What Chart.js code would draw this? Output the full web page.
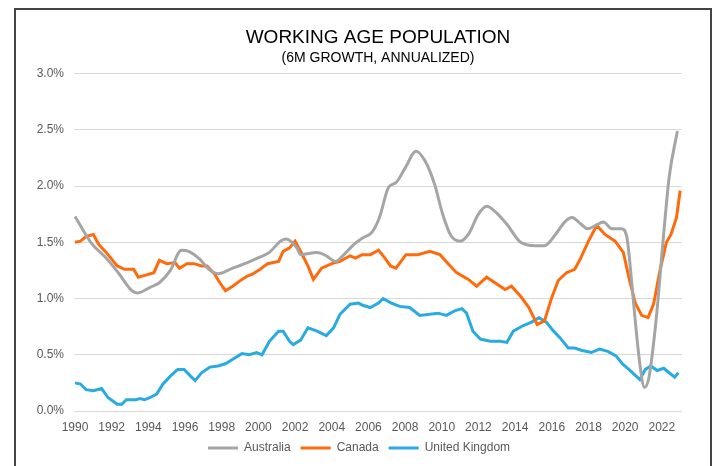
<!DOCTYPE html>
<html>
<head>
<meta charset="utf-8">
<title>Working Age Population</title>
<script src="https://cdn.jsdelivr.net/npm/chart.js@4/dist/chart.umd.min.js"></script>
<style>
  html, body { margin: 0; padding: 0; background: #fff; }
  #wrap { position: relative; width: 719px; height: 466px; }
  #frame {
    position: absolute; left: 14px; top: 8px; width: 698px; height: 470px;
    border: 2px solid #444; box-sizing: border-box; pointer-events: none;
  }
</style>
</head>
<body>
<div id="wrap">
  <canvas id="popChart" width="719" height="466"></canvas>
  <div id="frame"></div>
</div>
<script>
// values, % (6m growth, annualized)
const auYears = [1990.0, 1990.9, 1991.7, 1992.4, 1993.1, 1993.4, 1994.1, 1994.6, 1995.2, 1995.8,
  1996.2, 1996.8, 1997.3, 1997.8, 1998.6, 1999.4, 2000.1, 2000.6, 2001.2, 2001.5,
  2002.1, 2002.3, 2003.2, 2003.7, 2004.2, 2004.6, 2005.2, 2005.7, 2006.2, 2006.6,
  2007.1, 2007.5, 2008.0, 2008.6, 2009.1, 2009.6, 2010.05, 2010.5, 2011.0, 2011.45,
  2012.0, 2012.45, 2013.0, 2013.55, 2014.3, 2015.1, 2015.6, 2016.2, 2016.7, 2017.1,
  2017.6, 2017.95, 2018.4, 2018.8, 2019.3, 2019.8, 2020.1, 2020.25, 2020.5, 2020.8,
  2021.05, 2021.3, 2021.7, 2022.05, 2022.4, 2022.85];
const auValues = [1.73, 1.49, 1.36, 1.22, 1.07, 1.05, 1.10, 1.14, 1.25, 1.43,
  1.42, 1.35, 1.26, 1.22, 1.27, 1.32, 1.37, 1.41, 1.51, 1.53,
  1.45, 1.39, 1.41, 1.38, 1.33, 1.38, 1.48, 1.54, 1.59, 1.72,
  1.99, 2.03, 2.16, 2.31, 2.22, 2.02, 1.75, 1.56, 1.51, 1.57,
  1.75, 1.82, 1.76, 1.66, 1.50, 1.47, 1.47, 1.57, 1.68, 1.72,
  1.66, 1.62, 1.65, 1.68, 1.62, 1.62, 1.54, 1.33, 0.89, 0.42,
  0.21, 0.30, 0.83, 1.48, 2.08, 2.49];

const caYears = [1990.0, 1990.3, 1990.6, 1991.0, 1991.3, 1991.7, 1992.3, 1992.7, 1993.2, 1993.45,
  1993.9, 1994.3, 1994.6, 1995.0, 1995.45, 1995.7, 1996.1, 1996.5, 1996.9, 1997.2,
  1997.6, 1997.9, 1998.2, 1998.6, 1999.1, 1999.4, 1999.7, 2000.1, 2000.5, 2001.1,
  2001.35, 2001.7, 2002.0, 2002.3, 2002.7, 2003.0, 2003.45, 2004.0, 2004.45, 2005.0,
  2005.3, 2005.65, 2006.1, 2006.55, 2006.9, 2007.2, 2007.5, 2008.05, 2008.7, 2009.35,
  2009.9, 2010.35, 2010.8, 2011.45, 2011.9, 2012.45, 2013.0, 2013.45, 2013.8, 2014.3,
  2014.75, 2015.2, 2015.6, 2016.0, 2016.35, 2016.8, 2017.25, 2017.55, 2018.0, 2018.45,
  2018.9, 2019.45, 2019.9, 2020.2, 2020.55, 2020.9, 2021.25, 2021.55, 2021.9, 2022.25,
  2022.5, 2022.8, 2023.0];
const caValues = [1.50, 1.51, 1.55, 1.57, 1.48, 1.41, 1.29, 1.26, 1.26, 1.19,
  1.21, 1.23, 1.34, 1.31, 1.32, 1.27, 1.31, 1.31, 1.29, 1.29,
  1.22, 1.14, 1.07, 1.11, 1.17, 1.20, 1.22, 1.26, 1.31, 1.33,
  1.42, 1.45, 1.51, 1.42, 1.29, 1.17, 1.27, 1.31, 1.33, 1.38,
  1.36, 1.39, 1.39, 1.43, 1.36, 1.29, 1.27, 1.39, 1.39, 1.42,
  1.39, 1.31, 1.23, 1.17, 1.11, 1.19, 1.13, 1.08, 1.11, 1.02,
  0.92, 0.77, 0.80, 1.01, 1.16, 1.23, 1.26, 1.35, 1.51, 1.65,
  1.57, 1.51, 1.41, 1.19, 0.96, 0.85, 0.83, 0.95, 1.25, 1.50,
  1.57, 1.72, 1.96];

const ukYears = [1990.0, 1990.3, 1990.6, 1991.0, 1991.45, 1991.8, 1992.3, 1992.55, 1992.8, 1993.3,
  1993.55, 1993.8, 1994.1, 1994.45, 1994.8, 1995.2, 1995.6, 1995.95, 1996.3, 1996.55,
  1996.9, 1997.35, 1997.8, 1998.2, 1998.6, 1999.1, 1999.5, 1999.9, 2000.2, 2000.6,
  2001.1, 2001.35, 2001.7, 2001.9, 2002.3, 2002.7, 2003.2, 2003.7, 2004.1, 2004.45,
  2005.0, 2005.45, 2005.7, 2006.1, 2006.55, 2006.8, 2007.25, 2007.7, 2008.25, 2008.8,
  2009.35, 2009.8, 2010.25, 2010.7, 2011.1, 2011.35, 2011.7, 2012.1, 2012.65, 2013.2,
  2013.55, 2013.9, 2014.45, 2014.9, 2015.3, 2015.7, 2016.1, 2016.45, 2016.9, 2017.25,
  2017.6, 2018.15, 2018.6, 2019.05, 2019.5, 2019.85, 2020.2, 2020.6, 2020.8, 2021.1,
  2021.4, 2021.75, 2022.1, 2022.4, 2022.7, 2022.9];
const ukValues = [0.25, 0.24, 0.19, 0.18, 0.20, 0.12, 0.06, 0.06, 0.10, 0.10,
  0.11, 0.10, 0.12, 0.15, 0.24, 0.31, 0.37, 0.37, 0.31, 0.27,
  0.34, 0.39, 0.40, 0.42, 0.46, 0.51, 0.50, 0.52, 0.50, 0.62,
  0.71, 0.71, 0.62, 0.59, 0.63, 0.74, 0.71, 0.67, 0.74, 0.86,
  0.95, 0.96, 0.94, 0.92, 0.96, 1.00, 0.96, 0.93, 0.92, 0.85,
  0.86, 0.87, 0.85, 0.89, 0.91, 0.87, 0.71, 0.64, 0.62, 0.62,
  0.61, 0.71, 0.76, 0.79, 0.83, 0.79, 0.71, 0.65, 0.56, 0.56,
  0.54, 0.52, 0.55, 0.53, 0.49, 0.42, 0.37, 0.31, 0.28, 0.37,
  0.40, 0.36, 0.38, 0.34, 0.30, 0.34];

const xTickYears = [1990, 1992, 1994, 1996, 1998, 2000, 2002, 2004, 2006, 2008,
  2010, 2012, 2014, 2016, 2018, 2020, 2022];

const FONT = 'Arial, "Liberation Sans", sans-serif';
const toPoints = (xs, ys) => xs.map((x, i) => ({ x, y: ys[i] }));

const ctx = document.getElementById('popChart').getContext('2d');
new Chart(ctx, {
  type: 'line',
  data: {
    datasets: [
      {
        label: 'Australia',
        data: toPoints(auYears, auValues),
        borderColor: '#A5A5A5',
        backgroundColor: '#A5A5A5',
        borderWidth: 3,
        cubicInterpolationMode: 'monotone',
      },
      {
        label: 'Canada',
        data: toPoints(caYears, caValues),
        borderColor: '#FF6A0D',
        backgroundColor: '#FF6A0D',
        borderWidth: 3,
      },
      {
        label: 'United Kingdom',
        data: toPoints(ukYears, ukValues),
        borderColor: '#29ABE2',
        backgroundColor: '#29ABE2',
        borderWidth: 3,
      },
    ],
  },
  options: {
    responsive: false,
    animation: false,
    layout: { padding: { left: 36, right: 37, top: 26, bottom: 2 } },
    elements: { point: { radius: 0 }, line: { tension: 0 } },
    plugins: {
      title: {
        display: true,
        text: 'WORKING AGE POPULATION',
        color: '#000',
        fullSize: false,
        font: { family: FONT, size: 19, weight: 'normal' },
        padding: { top: 0, bottom: 1 },
      },
      subtitle: {
        display: true,
        text: '(6M GROWTH, ANNUALIZED)',
        color: '#000',
        fullSize: false,
        font: { family: FONT, size: 14 },
        padding: { top: 0, bottom: 7 },
      },
      legend: {
        position: 'bottom',
        labels: {
          color: '#595959',
          font: { family: FONT, size: 12 },
          boxWidth: 30,
          boxHeight: 3,
          padding: 10,
          generateLabels: chart =>
            Chart.defaults.plugins.legend.labels.generateLabels(chart).map(l => ({ ...l, lineWidth: 0 })),
        },
      },
      tooltip: { enabled: false },
    },
    scales: {
      x: {
        type: 'linear',
        min: 1989.945,
        max: 2023.1,
        afterBuildTicks: scale => { scale.ticks = xTickYears.map(v => ({ value: v })); },
        afterFit: scale => { scale.height = 21; },
        ticks: {
          color: '#595959',
          font: { family: FONT, size: 12 },
          padding: 9,
          maxRotation: 0,
          autoSkip: false,
          callback: v => String(v),
        },
        grid: { display: false, drawTicks: false },
        border: { display: false },
      },
      y: {
        min: 0,
        max: 3,
        afterFit: scale => { scale.width = 38; },
        ticks: {
          stepSize: 0.5,
          color: '#595959',
          font: { family: FONT, size: 12 },
          padding: 10,
          callback: v => v.toFixed(1) + '%',
        },
        grid: { color: '#D9D9D9', lineWidth: 1, drawTicks: false },
        border: { display: false },
      },
    },
  },
});
</script>
</body>
</html>
